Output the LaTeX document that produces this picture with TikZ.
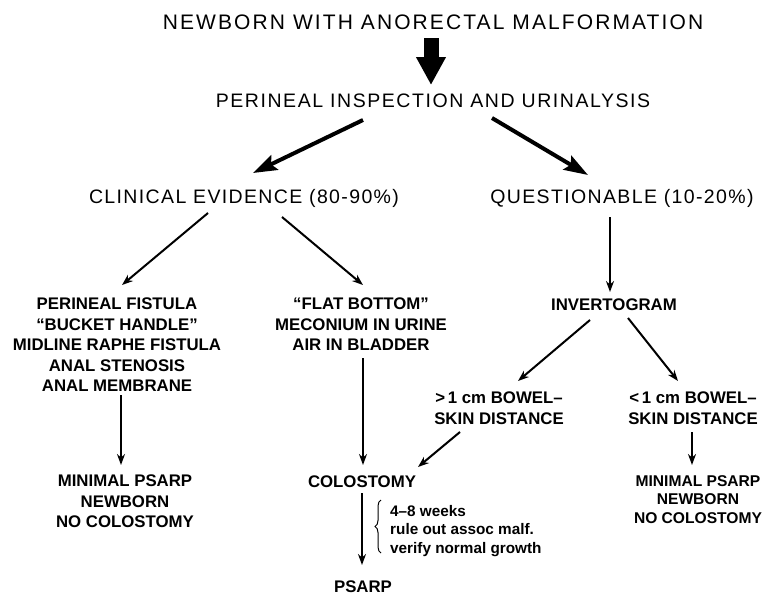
\documentclass[tikz,border=0pt]{standalone}
\usepackage{fontspec}
\setmainfont{Liberation Sans}
\newfontfamily\titlefont[LetterSpace=10]{Liberation Sans}
\newfontfamily\headfont[LetterSpace=7]{Liberation Sans}
\newfontfamily\inspfont[LetterSpace=8]{Liberation Sans}
\usepackage{tikz}
\usetikzlibrary{arrows.meta}
\usetikzlibrary{decorations.pathreplacing}
\tikzstyle{title}=[font=\titlefont\fontsize{21}{25}\selectfont,inner sep=0pt,anchor=base]
\tikzstyle{heading}=[font=\headfont\fontsize{19.5}{23}\selectfont,inner sep=0pt,anchor=base]
\tikzstyle{block}=[font=\bfseries\fontsize{16.8}{20.4}\selectfont,align=center,inner sep=0pt,anchor=north]
\tikzstyle{smallblock}=[font=\bfseries\fontsize{15.6}{18.5}\selectfont,align=center,inner sep=0pt,anchor=north]
\tikzstyle{label}=[font=\bfseries\fontsize{16.8}{20.4}\selectfont,inner sep=0pt,anchor=base]
\tikzstyle{note}=[font=\bfseries\fontsize{15.3}{18.5}\selectfont,align=left,inner sep=0pt,anchor=north west]
\tikzstyle{bigarrow} = [draw,line width=15pt,-{Triangle[width=28pt,length=28pt]}]
\tikzstyle{thickedge} = [draw,line width=4pt,-{Stealth[length=24pt,width=16pt,inset=4pt]}]
\tikzstyle{edge} = [draw,line width=2pt,-{Stealth[length=11pt,width=8pt]}]
\tikzstyle{bracket} = [draw,line width=1pt,decorate,decoration={brace,amplitude=6pt}]

\begin{document}
\begin{tikzpicture}[x=1pt,y=-1pt]

  \fill[white] (0,0) rectangle (764,597);
  \useasboundingbox (0,0) rectangle (764,597);

  % headings, placed on their base lines
  \node[title] (newborn) at (433,29) {NEWBORN WITH ANORECTAL MALFORMATION};
  \node[heading,font=\inspfont\fontsize{19.5}{23}\selectfont] (insp) at (433,107) {PERINEAL INSPECTION AND URINALYSIS};
  \foreach \x/\y/\name/\label in {244/203/clin/CLINICAL EVIDENCE (80-90\%), 622/203/quest/QUESTIONABLE (10-20\%)}
     \node[heading] (\name) at (\x,\y) {\label};

  \foreach \x/\y/\name/\label in {614/310/invert/INVERTOGRAM, 362/487/colost/COLOSTOMY, 363/592/psarp/PSARP}
     \node[label] (\name) at (\x,\y) {\label};

  % text blocks, placed by their top
  \foreach \x/\y/\name/\label in {
          117/298/perin/{PERINEAL FISTULA\\“BUCKET HANDLE”\\MIDLINE RAPHE FISTULA\\ANAL STENOSIS\\ANAL MEMBRANE},
          361/298/flat/{“FLAT BOTTOM”\\MECONIUM IN URINE\\AIR IN BLADDER},
          125/475/minleft/{MINIMAL PSARP\\NEWBORN\\NO COLOSTOMY},
          499/392/gt/{>\,1 cm BOWEL–\\SKIN DISTANCE},
          693/392/lt/{<\,1 cm BOWEL–\\SKIN DISTANCE}}
     \node[block] (\name) at (\x,\y) {\label};

  \node[smallblock] (minright) at (698,475) {MINIMAL PSARP\\NEWBORN\\NO COLOSTOMY};
  \node[note] (notes) at (390,505) {4–8 weeks\\rule out assoc malf.\\verify normal growth};

  % arrows
  \path[bigarrow] ([shift={(-2,9)}]newborn.base) -- ([shift={(-2,-22)}]insp.base);
  \path[thickedge] ([shift={(-70,13)}]insp.base) -- ([shift={(9,-30)}]clin.base);
  \path[thickedge] ([shift={(59,11)}]insp.base) -- ([shift={(-34,-28)}]quest.base);

  \path[edge] ([shift={(-36,10)}]clin.base) -- ([shift={(5,-13)}]perin.north);
  \path[edge] ([shift={(38,14)}]clin.base) -- ([shift={(2,-13)}]flat.north);
  \path[edge] ([shift={(-12,14)}]quest.base) -- ([shift={(-4,-18)}]invert.base);
  \path[edge] ([shift={(4,97)}]perin.north) -- ([shift={(-4,-10)}]minleft.north);
  \path[edge] ([shift={(2,60)}]flat.north) -- ([shift={(1,-22)}]colost.base);
  \path[edge] ([shift={(0,6)}]colost.base) -- ([shift={(-1,-27)}]psarp.base);
  \path[edge] ([shift={(-24,10)}]invert.base) -- ([shift={(19,-11)}]gt.north);
  \path[edge] ([shift={(14,8)}]invert.base) -- ([shift={(-15,-11)}]lt.north);
  \path[edge] ([shift={(-39,40)}]gt.north) -- ([shift={(56,-20)}]colost.base);
  \path[edge] ([shift={(-1,40)}]lt.north) -- ([shift={(-6,-10)}]minright.north);

  \path[bracket] ([shift={(-9,48)}]notes.north west) -- ([shift={(-9,-5)}]notes.north west);

\end{tikzpicture}
\end{document}
